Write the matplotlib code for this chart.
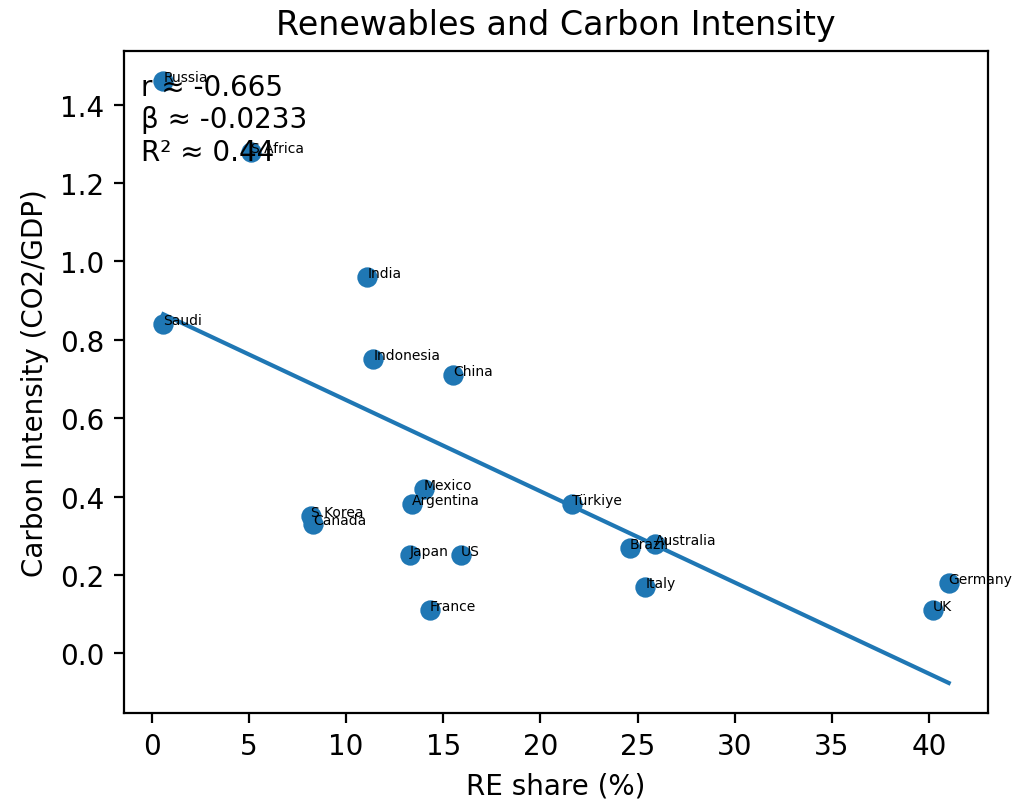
import numpy as np
import matplotlib
matplotlib.use("Agg")
import matplotlib.pyplot as plt

countries = ["Russia", "S Africa", "India", "Saudi", "Indonesia", "China", "Mexico",
             "Argentina", "S Korea", "Canada", "Japan", "US", "France", "Türkiye",
             "Brazil", "Australia", "Italy", "Germany", "UK"]
re_share = [0.6, 5.1, 11.1, 0.6, 11.4, 15.5, 14.0, 13.4, 8.2, 8.3, 13.3, 15.9, 14.3,
            21.6, 24.6, 25.9, 25.4, 41.0, 40.2]
carbon_int = [1.46, 1.28, 0.96, 0.84, 0.75, 0.71, 0.42, 0.38, 0.35, 0.33, 0.25, 0.25,
              0.11, 0.38, 0.27, 0.28, 0.17, 0.18, 0.11]
stats_text = "r ≈ -0.665\nβ ≈ -0.0233\nR² ≈ 0.44"

x = np.array(re_share)
y = np.array(carbon_int)

fig = plt.figure(figsize=(1018/200, 804/200), dpi=200)
ax = fig.add_axes([0.1218, 0.1119, 0.8487, 0.8234])
ax.scatter(x, y, s=40, color="#1f77b4")
for name, xi, yi in zip(countries, x, y):
    ax.text(xi, yi, name, fontsize=5)

b, a = np.polyfit(x, y, 1)
xs = np.array([x.min(), x.max()])
ax.plot(xs, a + b * xs, color="#1f77b4", lw=1.5)

ax.text(0.02, 0.967, stats_text, transform=ax.transAxes, va="top", ha="left", fontsize=10)
ax.set_title("Renewables and Carbon Intensity", fontsize=12)
ax.set_xlabel("RE share (%)", fontsize=10)
ax.set_ylabel("Carbon Intensity (CO2/GDP)", fontsize=10)
ax.tick_params(labelsize=10)
fig.savefig("out.png", dpi=200)
